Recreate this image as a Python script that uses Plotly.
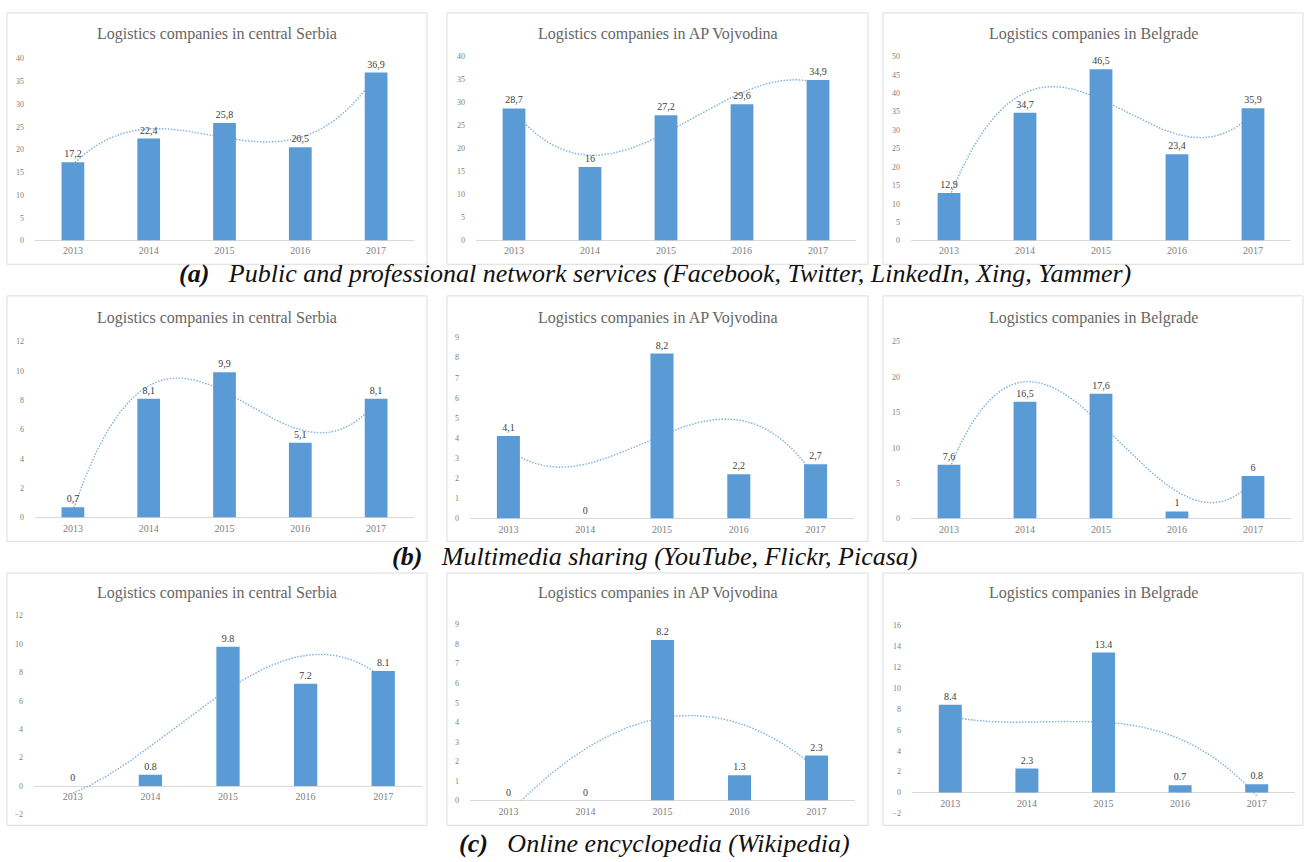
import numpy as np
import plotly.graph_objects as go

# ---------------- data ----------------
years = ["2013", "2014", "2015", "2016", "2017"]

region_titles = ["Logistics companies in central Serbia",
                 "Logistics companies in AP Vojvodina",
                 "Logistics companies in Belgrade"]

a_central_serbia = [17.2, 22.4, 25.8, 20.5, 36.9]
a_vojvodina = [28.7, 16, 27.2, 29.6, 34.9]
a_belgrade = [12.9, 34.7, 46.5, 23.4, 35.9]

b_central_serbia = [0.7, 8.1, 9.9, 5.1, 8.1]
b_vojvodina = [4.1, 0, 8.2, 2.2, 2.7]
b_belgrade = [7.6, 16.5, 17.6, 1, 6]

c_central_serbia = [0, 0.8, 9.8, 7.2, 8.1]
c_vojvodina = [0, 0, 8.2, 1.3, 2.3]
c_belgrade = [8.4, 2.3, 13.4, 0.7, 0.8]

captions = ["Public and professional network services (Facebook, Twitter, LinkedIn, Xing, Yammer)",
            "Multimedia sharing (YouTube, Flickr, Picasa)",
            "Online encyclopedia (Wikipedia)"]
caption_tags = ["(a)", "(b)", "(c)"]
decimal_sep = [",", ",", "."]

# y-axis scales (min, max, step) per panel
y_scales = [(0, 40, 5), (0, 40, 5), (0, 50, 5),
            (0, 12, 2), (0, 9, 1), (0, 25, 5),
            (-2, 12, 2), (0, 9, 1), (-2, 16, 2)]

series = [a_central_serbia, a_vojvodina, a_belgrade,
          b_central_serbia, b_vojvodina, b_belgrade,
          c_central_serbia, c_vojvodina, c_belgrade]

# ---------------- layout geometry (pixels) ----------------
W, H = 1309, 862
# plot area: x0, x1, y-pixel of axis min, y-pixel of axis max
plot_px = [(35, 414, 239, 55), (476, 856, 239, 53), (911, 1291, 239, 53),
           (35, 414, 519, 341), (470, 854, 520, 337), (911, 1291, 520, 341),
           (34, 422, 819, 618), (470, 855, 805, 627), (912, 1295, 818, 628)]
panel_cols = [(7, 427), (447, 868), (883, 1303)]
panel_rows = [(9, 263), (295, 543), (575, 830)]
title_y = [30, 317, 595]
caption_y = [272, 558, 848]

def X(px):
    return px / W

def Y(py):
    return 1 - py / H

FONT = "Liberation Serif"
BAR = "#5b9bd5"
TREND = "#7fb0e0"

fig = go.Figure()
layout = dict(
    width=W, height=H, margin=dict(l=0, r=0, t=0, b=0),
    paper_bgcolor="white", plot_bgcolor="rgba(0,0,0,0)",
    showlegend=False, font=dict(family=FONT),
)
annotations = []
shapes = []

cats = np.arange(len(years))
xfine = np.linspace(0, len(years) - 1, 200)

for k, vals in enumerate(series):
    row, col = divmod(k, 3)
    a = 2 * k + 1
    b = 2 * k + 2
    sa = "" if a == 1 else str(a)
    sb = str(b)
    ymin, ymax, dy = y_scales[k]
    x0, x1, ypmin, ypmax = plot_px[k]
    ydom = [Y(ypmin), Y(ypmax)]
    xdom = [X(x0), X(x1)]
    zero_pos = ydom[0] + (0 - ymin) / (ymax - ymin) * (ydom[1] - ydom[0])

    # base axes (visible ticks, trendline)
    layout["xaxis" + sa] = dict(
        domain=xdom, range=[-0.5, len(years) - 0.5], anchor="free",
        position=zero_pos - 3 / H,
        tickmode="array", tickvals=list(cats), ticktext=years, showline=False,
        showgrid=False, zeroline=False, ticks="",
        tickfont=dict(family=FONT, size=10, color="#808080"), fixedrange=True,
    )
    layout["yaxis" + sa] = dict(
        domain=ydom, range=[ymin, ymax], anchor="x" + sa, tick0=ymin, dtick=dy,
        showgrid=False, showline=False, zeroline=True, zerolinecolor="#d9d9d9",
        zerolinewidth=1, ticks="", ticklabelstandoff=10,
        tickfont=dict(family=FONT, size=8, color="#808080"), fixedrange=True,
    )
    # overlay axes (bars drawn above the trendline)
    layout["xaxis" + sb] = dict(
        overlaying="x" + sa, anchor="y" + sb, range=[-0.5, len(years) - 0.5],
        visible=False, fixedrange=True,
    )
    layout["yaxis" + sb] = dict(
        overlaying="y" + sa, anchor="x" + sb, range=[ymin, ymax],
        visible=False, fixedrange=True,
    )

    # polynomial (order 3) trendline computed from the data
    coef = np.polyfit(cats, vals, 3)
    fig.add_trace(go.Scatter(
        x=xfine, y=np.polyval(coef, xfine), mode="lines",
        line=dict(color=TREND, width=1.4, dash="1.5px,1.5px"),
        xaxis="x" + sa, yaxis="y" + sa, hoverinfo="skip",
    ))

    sep = decimal_sep[row]
    labels = [f"{v:g}".replace(".", sep) for v in vals]
    fig.add_trace(go.Bar(
        x=list(cats), y=vals, width=0.3, marker=dict(color=BAR, line=dict(width=0)),
        text=labels, textposition="outside", cliponaxis=False,
        textfont=dict(family=FONT, size=10, color="#404040"),
        xaxis="x" + sb, yaxis="y" + sb,
    ))

    # panel frame and title
    px0, px1 = panel_cols[col]
    py0, py1 = panel_rows[row]
    shapes.append(dict(type="rect", xref="paper", yref="paper",
                       x0=X(px0), x1=X(px1), y0=Y(py1), y1=Y(py0),
                       line=dict(color="#dcdcdc", width=1), layer="below"))
    annotations.append(dict(
        text=region_titles[col], xref="paper", yref="paper",
        x=X((px0 + px1) / 2), y=Y(title_y[row]), xanchor="center", yanchor="middle",
        showarrow=False, font=dict(family=FONT, size=16, color="#666666"),
    ))

for r in range(3):
    annotations.append(dict(
        text="<b><i>" + caption_tags[r] + "</i></b>\u00a0\u00a0\u00a0<i>" + captions[r] + "</i>",
        xref="paper", yref="paper", x=0.5, y=Y(caption_y[r]),
        xanchor="center", yanchor="middle", showarrow=False,
        font=dict(family=FONT, size=26, color="#111111"),
    ))

layout["annotations"] = annotations
layout["shapes"] = shapes
fig.update_layout(**layout)
fig.write_html("out.html", config={"displayModeBar": False},
               post_script="document.body.style.margin='0';document.body.style.overflow='hidden';")
